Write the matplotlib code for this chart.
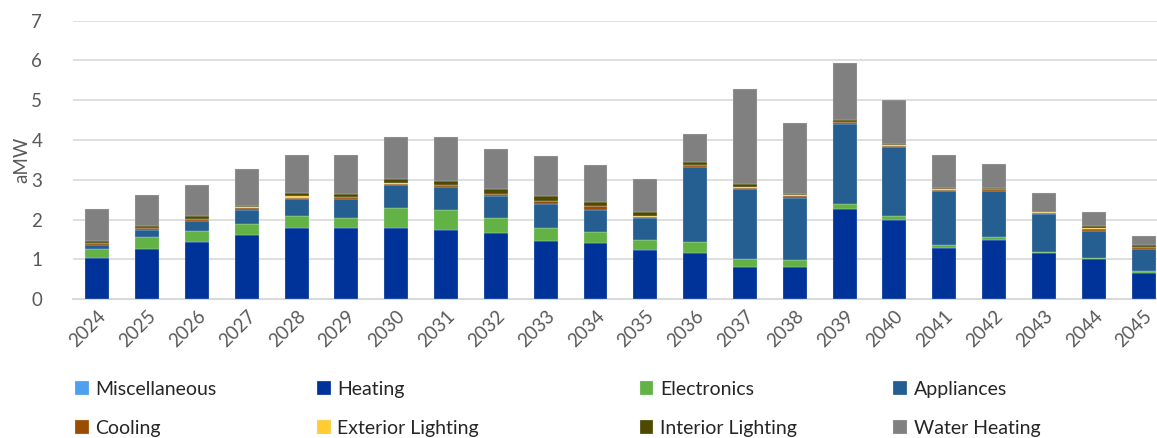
import numpy as np
import matplotlib
matplotlib.use('Agg')
import matplotlib.pyplot as plt

plt.rcParams['font.family'] = ['Lato', 'DejaVu Sans']

years = [str(y) for y in range(2024, 2046)]

# aMW by end use
miscellaneous = [0.0] * 22
heating = [1.04, 1.26, 1.43, 1.61, 1.80, 1.78, 1.80, 1.75, 1.66, 1.46, 1.40,
           1.23, 1.17, 0.81, 0.81, 2.27, 2.00, 1.29, 1.49, 1.15, 1.01, 0.65]
electronics = [0.22, 0.29, 0.29, 0.27, 0.29, 0.27, 0.50, 0.50, 0.39, 0.33, 0.28,
               0.25, 0.26, 0.20, 0.17, 0.12, 0.09, 0.08, 0.06, 0.03, 0.03, 0.05]
appliances = [0.10, 0.20, 0.25, 0.37, 0.42, 0.46, 0.56, 0.57, 0.54, 0.60, 0.57,
              0.55, 1.89, 1.75, 1.57, 2.02, 1.74, 1.36, 1.16, 0.96, 0.68, 0.56]
cooling = [0.04, 0.03, 0.04, 0.05, 0.04, 0.05, 0.04, 0.04, 0.05, 0.07, 0.08,
           0.04, 0.05, 0.04, 0.03, 0.04, 0.03, 0.02, 0.05, 0.03, 0.05, 0.04]
exterior_lighting = [0.01, 0.01, 0.01, 0.01, 0.03, 0.01, 0.01, 0.01, 0.01, 0.01, 0.01,
                     0.01, 0.01, 0.01, 0.03, 0.01, 0.01, 0.01, 0.01, 0.01, 0.01, 0.01]
interior_lighting = [0.05, 0.04, 0.06, 0.04, 0.09, 0.07, 0.10, 0.11, 0.11, 0.12, 0.11,
                     0.11, 0.07, 0.09, 0.03, 0.04, 0.03, 0.04, 0.02, 0.02, 0.07, 0.04]
water_heating = [0.81, 0.78, 0.78, 0.91, 0.96, 0.99, 1.07, 1.10, 1.01, 1.01, 0.92,
                 0.82, 0.71, 2.39, 1.78, 1.44, 1.11, 0.83, 0.60, 0.48, 0.34, 0.24]

series = [
    ('Miscellaneous', miscellaneous, '#4F9FF0'),
    ('Heating', heating, '#003399'),
    ('Electronics', electronics, '#62B246'),
    ('Appliances', appliances, '#255E91'),
    ('Cooling', cooling, '#9A4D00'),
    ('Exterior Lighting', exterior_lighting, '#FFCC33'),
    ('Interior Lighting', interior_lighting, '#4F4A00'),
    ('Water Heating', water_heating, '#808080'),
]

fig = plt.figure(figsize=(11.57, 4.38), dpi=100)
ax = fig.add_axes([0.063, 0.317, 0.937, 0.636])

x = np.arange(len(years))
bottom = np.zeros(len(years))
handles = {}
for name, vals, color in series:
    vals = np.array(vals)
    b = ax.bar(x, vals, 0.48, bottom=bottom, color=color, label=name,
               edgecolor='#DCE6F2', linewidth=0.2, zorder=3)
    handles[name] = b
    bottom += vals

ax.set_ylim(0, 7)
ax.set_xlim(-0.49, 21.27)
ax.set_yticks(range(8))
ax.yaxis.grid(True, color='#D9D9D9', linewidth=1.2, zorder=0)
ax.set_axisbelow(True)
for s in ['top', 'right', 'left']:
    ax.spines[s].set_visible(False)
ax.spines['bottom'].set_color('#D9D9D9')
ax.spines['bottom'].set_linewidth(1.5)
ax.tick_params(axis='both', length=0, colors='#595959', labelsize=13.5)
ax.tick_params(axis='y', pad=22)
ax.set_xticks(x)
ax.set_xticklabels(years, rotation=45, ha='right', rotation_mode='anchor')
ax.tick_params(axis='x', pad=6)
ax.set_ylabel('aMW', color='#595959', fontsize=13.5, labelpad=1)

# one small legend per column, rows: first four / last four
col_x = [0.0648, 0.274, 0.553, 0.772]
names = [n for n, _, _ in series]
for i, cx in enumerate(col_x):
    pair = [names[i], names[i + 4]]
    fig.legend([handles[n] for n in pair], pair, ncol=1, frameon=False,
               loc='upper left', bbox_to_anchor=(cx, 0.131), borderpad=0,
               borderaxespad=0, fontsize=14, handlelength=0.7,
               handleheight=0.7, handletextpad=0.35, labelspacing=1.15,
               labelcolor='#262626')

fig.savefig('out.png', dpi=100)
